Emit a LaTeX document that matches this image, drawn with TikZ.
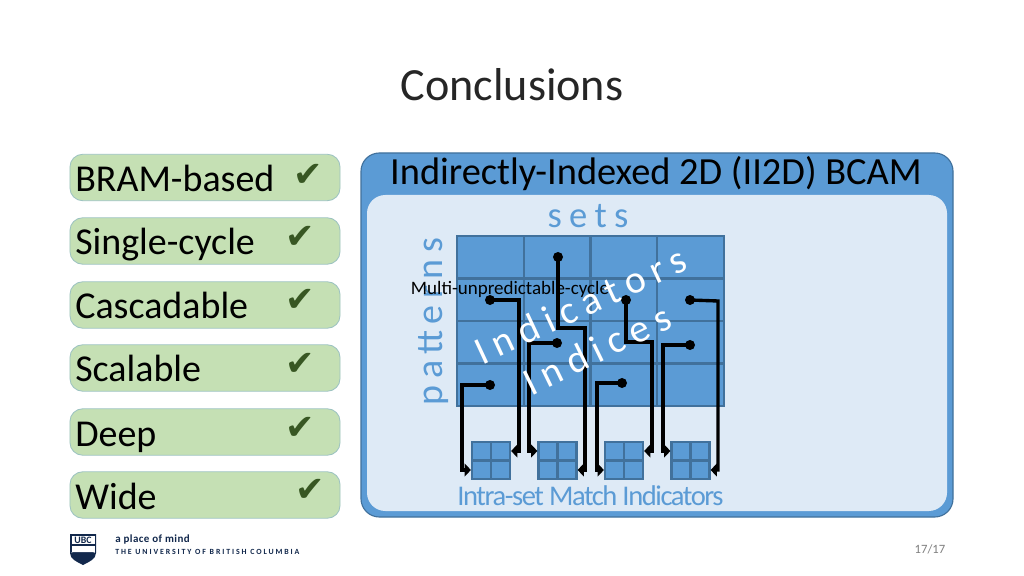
\documentclass[tikz,border=0pt]{standalone}
\usepackage{fontspec}
\setmainfont{Carlito}
\newfontfamily\symfont{DejaVu Sans}
\usetikzlibrary{arrows.meta}
\definecolor{panelblue}{HTML}{5B9BD5}
\definecolor{panelline}{HTML}{41719C}
\definecolor{panellight}{HTML}{DEEAF6}
\definecolor{boxgreen}{HTML}{C5E0B4}
\definecolor{boxline}{HTML}{9DC3C1}
\definecolor{tickgreen}{HTML}{385723}
\definecolor{ubcnavy}{HTML}{12284C}
\definecolor{pagegrey}{HTML}{7F7F7F}
\tikzset{
  featbox/.style={draw=boxline, fill=boxgreen, line width=0.6pt, rounded corners=9pt, minimum width=6.75cm, minimum height=1.16cm, inner sep=0pt},
  feat/.style={text=black, font=\fontsize{27}{29}\selectfont, anchor=base west, inner sep=0pt},
  tick/.style={text=tickgreen, font=\symfont\fontsize{25}{26}\selectfont, inner sep=0pt},
  bluelab/.style={text=panelblue, inner sep=0pt},
  cellbox/.style={draw=panelline, fill=panelblue, line width=1.5pt, minimum width=1.669cm, minimum height=1.0625cm, inner sep=0pt},
  minibox/.style={draw=panelline, fill=panelblue, line width=1.5pt, minimum width=0.475cm, minimum height=0.47cm, inner sep=0pt},
  pt/.style={circle, fill=black, inner sep=0pt, minimum size=0.25cm},
  wire/.style={draw=black, line width=2.4pt, -{Triangle[length=4.5pt,width=9pt]}},
}
\begin{document}
\begin{tikzpicture}[x=0.025cm,y=-0.025cm]
  \useasboundingbox (0,0) rectangle (1024,576);
  \fill[white] (0,0) rectangle (1024,576);
  \node[inner sep=0pt, font=\fontsize{32.8}{35}\selectfont, text=black!85] (title) at (512,85) {Conclusions};

  \foreach \name/\yy/\lab/\tx/\ty in {bram/177.5/BRAM-based/308/175, single/241/Single-cycle/300/237, casc/305/Cascadable/300/300, scal/368/Scalable/300/364, deep/432/Deep/300/428, wide/495/Wide/310/490}{
    \node[featbox] (\name) at (205,\yy) {};
    \node[feat] (\name txt) at (75,\yy+14) {\lab};
    \node[tick] (\name tick) at (\tx,\ty) {✔};
  }

  \draw[draw=panelline, fill=panelblue, line width=0.8pt, rounded corners=13pt] (361,153) rectangle (953,517);
  \fill[panellight, rounded corners=13pt] (367,195) rectangle (947,511);
  \node[inner sep=0pt, font=\fontsize{27.3}{30}\selectfont, text=black] (head) at (656,174) {Indirectly-Indexed 2D (II2D) BCAM};
  \node[bluelab, font=\fontsize{26}{28}\selectfont\addfontfeature{LetterSpace=20}] (sets) at (588,216) {sets};
  \node[bluelab, rotate=90, font=\fontsize{27}{29}\selectfont\addfontfeature{LetterSpace=17}] (patterns) at (434,321.5) {patterns};

  \foreach \col in {1,2,3,4}{
    \foreach \row in {1,2,3,4}{
      \node[cellbox] (c\col\row) at (490.4+66.75*\col-66.75,257.25+42.5*\row-42.5) {};
    }
  }

  \foreach \col/\xx in {1/481.5,2/548,3/614.5,4/681}{
    \node[minibox] (ind\col a) at (\xx,451) {};
    \node[minibox] (ind\col b) at (\xx+19,451) {};
    \node[minibox] (ind\col c) at (\xx,470) {};
    \node[minibox] (ind\col d) at (\xx+19,470) {};
  }

  \node[pt] (pa) at (490,385) {};
  \node[pt] (pb) at (490,300) {};
  \node[pt] (pc) at (557,343) {};
  \node[pt] (pd) at (558,257) {};
  \node[pt] (pe) at (622,383) {};
  \node[pt] (pf) at (626,300) {};
  \node[pt] (pg) at (690,345) {};
  \node[pt] (ph) at (690,300) {};

  \draw[wire] (pa.center) -- ++(-28,0) |- (ind1c.west);
  \draw[wire] (pb.center) -- ++(29,0) |- (ind1b.east);
  \draw[wire] (pc.center) -- ++(-28,0) |- (ind2a.west);
  \draw[wire] (pd.center) -- ++(0,71) -- ++(27,0) |- (ind2d.east);
  \draw[wire] (pe.center) -- ++(-25,0) |- (ind3c.west);
  \draw[wire] (pf.center) -- ++(0,42) -- ++(26,0) |- (ind3b.east);
  \draw[wire] (pg.center) -- ++(-27,0) |- (ind4a.west);
  \draw[wire] (ph.center) -- ++(28,1) |- (ind4d.east);

  \node[inner sep=0pt, text=black, font=\fontsize{13.5}{15}\selectfont] (multi) at (510,289) {Multi-unpredictable-cycle};
  \node[inner sep=0pt, text=white, rotate=25, font=\fontsize{28}{30}\selectfont\addfontfeature{LetterSpace=20}] (indicators) at (580,305) {Indicators};
  \node[inner sep=0pt, text=white, rotate=26, font=\fontsize{28}{30}\selectfont\addfontfeature{LetterSpace=20}] (indices) at (597,349) {Indices};
  \node[bluelab, font=\fontsize{20.3}{22}\selectfont\addfontfeature{LetterSpace=-5}] (intra) at (590.5,496) {Intra-set Match Indicators};

  \fill[ubcnavy] (70,534) -- (96,534) -- (96,553) .. controls (96,559) and (89,562) .. (83,565) .. controls (77,562) and (70,559) .. (70,553) -- cycle;
  \fill[white] (71.5,535.5) rectangle (94.5,544);
  \fill[white] (71.5,545.5) rectangle (94.5,552);
  \fill[white] (71.5,552) -- (94.5,552) -- (94.5,553) .. controls (92,549) and (74,549) .. (71.5,553) -- cycle;
  \node[inner sep=0pt, text=ubcnavy, font=\fontsize{7}{8}\selectfont\bfseries] (ubc) at (83,540) {UBC};
  \node[inner sep=0pt, anchor=west, text=ubcnavy, font=\fontsize{7.8}{8}\selectfont\bfseries\addfontfeature{LetterSpace=4}] (mind) at (115,539.5) {a place of mind};
  \node[inner sep=0pt, anchor=west, text=ubcnavy, font=\fontsize{5.6}{6}\selectfont\bfseries\addfontfeature{LetterSpace=24}] (univ) at (115,551.5) {THE UNIVERSITY OF BRITISH COLUMBIA};
  \node[inner sep=0pt, text=pagegrey, font=\fontsize{9}{10}\selectfont] (page) at (930,549) {17/17};
\end{tikzpicture}
\end{document}
